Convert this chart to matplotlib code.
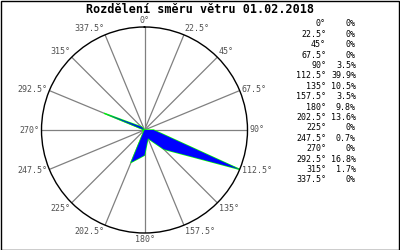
import numpy as np
import matplotlib
matplotlib.use("Agg")
import matplotlib.pyplot as plt
from matplotlib.patches import Rectangle

directions = [0, 22.5, 45, 67.5, 90, 112.5, 135, 157.5, 180, 202.5, 225, 247.5, 270, 292.5, 315, 337.5]
dir_labels = ["0°", "22.5°", "45°", "67.5°", "90°", "112.5°", "135°", "157.5°", "180°",
              "202.5°", "225°", "247.5°", "270°", "292.5°", "315°", "337.5°"]
percents = [0, 0, 0, 0, 3.5, 39.9, 10.5, 3.5, 9.8, 13.6, 0, 0.7, 0, 16.8, 1.7, 0]
pct_labels = ["0%", "0%", "0%", "0%", "3.5%", "39.9%", "10.5%", "3.5%", "9.8%",
              "13.6%", "0%", "0.7%", "0%", "16.8%", "1.7%", "0%"]
title = "Rozdělení směru větru 01.02.2018"

W, H = 400, 250
fig = plt.figure(figsize=(4, 2.5), dpi=100)
fig.patch.set_facecolor("white")

cx, cy, R = 144.5, 120.0, 103.0
ax = fig.add_axes([(cx - R) / W, (cy - R) / H, 2 * R / W, 2 * R / H], projection="polar")
ax.set_theta_zero_location("N")
ax.set_theta_direction(-1)
rmax = max(percents)
ax.set_ylim(0, rmax)
ax.set_xticks([])
ax.set_yticks([])
ax.grid(False)
ax.spines["polar"].set_color("black")
ax.spines["polar"].set_linewidth(1.0)
ax.set_facecolor("white")

th = np.deg2rad(directions)
for t in th:
    ax.plot([t, t], [0, rmax], color="#808080", lw=0.9, zorder=1)

tc = np.append(th, th[0])
rc = np.append(percents, percents[0])
ax.plot(tc, rc, color="#00ff00", lw=1.0, zorder=2)
ax.fill(tc, rc, color="#0000ff", lw=0, zorder=3)

mono = "DejaVu Sans Mono"
for t, lab in zip(th, dir_labels):
    s, c = np.sin(t), np.cos(t)
    ha = "left" if s > 0.01 else ("right" if s < -0.01 else "center")
    if abs(c) < 0.5:
        va = "center"
    else:
        va = "bottom" if c > 0 else "top"
    ax.text(t, rmax * 1.02, lab, ha=ha, va=va, fontsize=6, family=mono,
            color="#505050", clip_on=False)

fig.text(200 / W, 1 - 9.5 / H, title, ha="center", va="center", fontsize=8.5,
         family=mono, fontweight="bold", color="black")

y0, step = 24.0, 10.4
for i, (dl, pl) in enumerate(zip(dir_labels, pct_labels)):
    y = 1 - (y0 + i * step) / H
    fig.text(326 / W, y, dl, ha="right", va="center", fontsize=6, family=mono, color="black")
    fig.text(356 / W, y, pl, ha="right", va="center", fontsize=6, family=mono, color="black")

fig.add_artist(Rectangle((0.5 / W, 0.5 / H), 1 - 1.5 / W, 1 - 1.5 / H, transform=fig.transFigure,
                         fill=False, edgecolor="black", lw=1.0))

fig.savefig("out.png", dpi=100, facecolor="white")
